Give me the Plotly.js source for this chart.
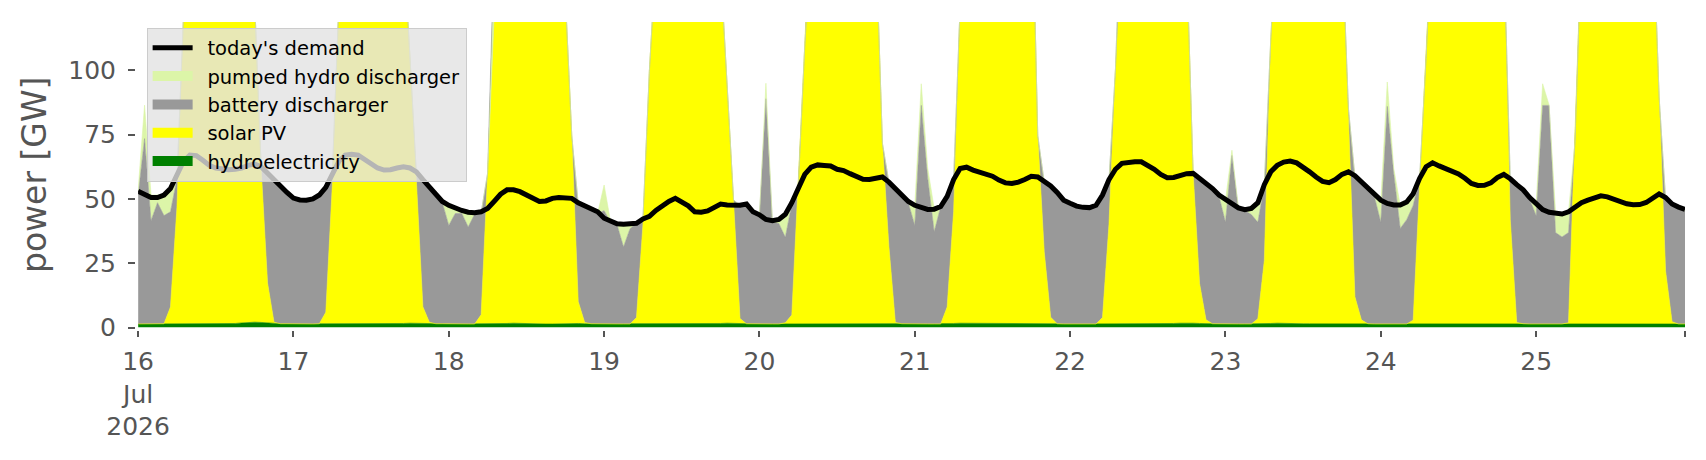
<!DOCTYPE html>
<html>
<head>
<meta charset="utf-8">
<script src="https://cdn.plot.ly/plotly-3.0.1.min.js"></script>
<style>
  html, body { margin: 0; padding: 0; background: #ffffff; }
  #chart { width: 1706px; height: 460px; }
</style>
</head>
<body>
<div id="chart"></div>
<script>
// ---- data: hourly values, 16 Jul 2026 00:00 .. 25 Jul 2026 23:00 (one row per day) ----
const startTime = '2026-07-16T00:00:00Z';
const hoursCount = 240;

const demand = [
  53, 51.5, 50.5, 50.5, 51.5, 54, 59, 64.5, 67, 66.8, 65, 63, 62, 61.5, 61.3, 61.5, 62, 63, 63.5, 62.5, 60, 57.5, 54.5, 52.5,
  50.3, 49.6, 49.5, 50, 51.5, 54.5, 59.5, 64.5, 67, 67.3, 67, 65.5, 63.5, 62, 61.2, 61.3, 62, 62.5, 62, 60.5, 57.5, 54.5, 51.5, 49,
  47.5, 46.3, 45.5, 44.8, 44.6, 45, 46.3, 49, 51.8, 53.5, 53.5, 52.8, 51.5, 50, 49, 49.2, 50.2, 50.5, 50.5, 50.2, 48.5, 47.5, 46.2, 45,
  42.5, 41.2, 40.3, 40.1, 40.1, 40.5, 42.2, 43.2, 45.5, 47.3, 49, 50.2, 49, 47.3, 45, 44.8, 45.3, 46.5, 48, 47.6, 47.4, 47.5, 48, 45,
  43.8, 42, 41.5, 42, 44, 48.5, 54, 59.5, 62.3, 63.2, 63, 62.8, 61.5, 61, 59.8, 58.6, 57.6, 57.5, 58.2, 58.5, 56.5, 54, 51.8, 49,
  47.5, 46.5, 45.9, 46, 47, 51, 57.5, 61.8, 62.3, 61.2, 60.5, 60, 58.8, 57.3, 56.2, 56, 56.5, 57.5, 58.8, 58.5, 57, 55, 52.5, 49.5,
  48.3, 47.2, 46.7, 46.6, 47.5, 51.5, 57.5, 61.5, 63.8, 64.3, 64.4, 64.4, 63, 61.5, 59.5, 58.2, 58.3, 59, 59.8, 59.9, 58, 56, 54, 51.5,
  49.8, 48, 46.5, 45.8, 46.3, 48.5, 55.5, 60.5, 63, 64.3, 64.7, 64, 62.5, 60.5, 58.5, 56.8, 56.3, 57.5, 59.5, 60.5, 59, 56.5, 54.5, 51.5,
  49.5, 48.2, 47.6, 47.6, 48.8, 52, 58, 62.5, 64, 62.8, 61.8, 60.8, 59.7, 58, 56, 55.2, 55.3, 56.2, 58.3, 59.5, 57.8, 55.5, 53.5, 50.5,
  47.8, 45.8, 44.8, 44.4, 44.1, 45, 47, 48.5, 49.5, 50.5, 51.2, 50.8, 49.8, 49, 48.1, 47.7, 47.8, 48.6, 50.5, 51.9, 50.5, 48, 46.8, 45.9
];

const hydroelectricity = [
  1.4,1.4,1.5,1.5,1.5,1.5,1.6,1.6,1.5,1.5,1.4,1.4,1.4,1.4,1.5,1.6,1.8,2.0,2.1,2.0,1.8,1.6,1.5,1.5,
  1.4,1.4,1.4,1.4,1.5,1.5,1.5,1.6,1.6,1.5,1.5,1.5,1.4,1.4,1.4,1.4,1.5,1.6,1.7,1.7,1.6,1.6,1.5,1.5,
  1.4,1.4,1.4,1.4,1.4,1.5,1.5,1.5,1.5,1.6,1.7,1.6,1.5,1.4,1.4,1.4,1.4,1.5,1.5,1.6,1.6,1.5,1.5,1.4,
  1.4,1.4,1.4,1.4,1.4,1.4,1.5,1.5,1.5,1.5,1.6,1.6,1.6,1.5,1.5,1.5,1.5,1.5,1.6,1.7,1.6,1.5,1.5,1.4,
  1.4,1.4,1.4,1.4,1.4,1.4,1.5,1.5,1.5,1.5,1.5,1.5,1.5,1.5,1.5,1.5,1.5,1.6,1.6,1.6,1.5,1.5,1.5,1.4,
  1.4,1.4,1.4,1.4,1.4,1.5,1.6,1.7,1.7,1.6,1.5,1.5,1.5,1.5,1.5,1.5,1.5,1.6,1.6,1.6,1.5,1.5,1.5,1.4,
  1.4,1.4,1.4,1.4,1.4,1.4,1.5,1.6,1.6,1.5,1.5,1.5,1.5,1.5,1.5,1.5,1.6,1.7,1.8,1.7,1.6,1.5,1.5,1.4,
  1.4,1.4,1.4,1.4,1.4,1.4,1.5,1.6,1.7,1.6,1.5,1.5,1.5,1.5,1.5,1.5,1.5,1.5,1.6,1.6,1.5,1.5,1.5,1.4,
  1.4,1.4,1.4,1.4,1.4,1.4,1.5,1.5,1.5,1.5,1.5,1.5,1.5,1.5,1.5,1.5,1.5,1.5,1.6,1.6,1.5,1.5,1.5,1.4,
  1.4,1.4,1.4,1.4,1.4,1.4,1.5,1.5,1.5,1.5,1.5,1.5,1.5,1.5,1.5,1.5,1.5,1.5,1.6,1.6,1.5,1.5,1.4,1.4
];

const solarPV = [
  0,0,0,0,0,6.5,45,118.5,165,180,190,195,195,190,182,170,155,140,125,60.5,15.5,0.5,0,0,
  0,0,0,0,0,4.5,53.5,123,170,185,195,200,200,195,188,178,165,148,103.5,55.5,6.5,0.5,0,0,
  0,0,0,0,0,3.5,58.5,145,180,195,205,210,210,205,195,185,170,150,128,73,8.5,0.5,0,0,
  0,0,0,0,0,2.5,38.5,98.5,158,185,200,205,205,200,195,185,175,160,138,93,48,2,0,0,
  0,0,0,0,0.5,3.5,53.5,108,168,190,205,210,215,210,205,195,185,170,148,70,30,0.5,0,0,
  0,0,0,0,0,6.5,43.5,123,175,190,200,205,210,205,200,195,190,185,182,73,28,2.5,0,0,
  0,0,0,0,0,2.5,38.5,98.5,168,190,200,210,210,205,200,190,180,165,142,58.5,15.5,1.5,0,0,
  0,0,0,0,0,2,24.5,110.5,158.5,185,195,205,210,210,205,195,185,175,150,83.5,10.5,1.5,0,0,
  0,0,0,0,0,1.5,53.5,103.5,158,185,200,205,210,210,205,200,190,180,170,147,40.5,0.5,0,0,
  0,0,0,0,0,0.5,70.5,148,180,195,205,210,210,205,200,190,180,170,160,88,20.5,0.8,0,0
];

const batteryDischarger = [
  50,72,40,47,42,37,11,0,0,0,0,0,0,0,0,0,0,0,0,0.5,42.5,55,52.5,50.5,
  48.3,47.6,47.5,48,49.5,48,4.5,0,0,0,0,0,0,0,0,0,0,0,0,2.5,49,52,49.5,47,
  38.3,42.9,43,37.7,42.6,39.5,0,0,0,0,0,0,0,0,0,0,0,0,0,0,38,45,44.5,43,
  44,39.5,38.5,29.9,37,36.5,2.2,0,0,0,0,0,0,0,0,0,0,0,0,0,0,44,46,43,
  42,87.5,39.5,39,33.2,43,0,0,0,0,0,0,0,0,0,0,0,0,0,0,25,51.5,50,47,
  38.3,84.9,56.5,35.8,45.5,42.5,12.5,0,0,0,0,0,0,0,0,0,0,0,0,0,27,50.5,50.5,47.5,
  46.5,45.3,44.8,44.7,45.6,47.2,17,0,0,0,0,0,0,0,0,0,0,0,0,0,40.5,53,52.2,49.6,
  39.5,65.5,44.5,44,42.5,37.5,29,0,0,0,0,0,0,0,0,0,0,0,0,0,46.5,53,52.5,49.5,
  39.5,84.5,58.5,37.1,40.5,44.5,3,0,0,0,0,0,0,0,0,0,0,0,0,0,15.5,53,51.5,48.5,
  42,84.9,84.9,35.5,33.8,35,0,0,0,0,0,0,0,0,0,0,0,0,0,0,28,45.5,45,44
];

const pumpedHydroDischarger = [
  2,13,10,3,8,8,0,0,0,0,0,0,0,0,0,0,0,0,0,0,0,0,0,0,
  0,0.5,0.5,0,0,0,0,0,0,0,0,0,0,0,0,0,0,0,0,0,0,0,0,0,
  7.2,1.5,0.5,5,0,0,0,0,0,0,0,0,0,0,0,0,0,0,0,0,0,0,0,0,
  10,0.2,0.3,8.7,1.5,0,0,0,0,0,0,0,0,0,0,0,0,0,0,0,0,0,0,0,
  0.3,6,0.5,1.5,9,0.5,0,0,0,0,0,0,0,0,0,0,0,0,0,0,0,0,0,0,
  7.7,8.4,4,9,0.5,0,0,0,0,0,0,0,0,0,0,0,0,0,0,0,0,0,0,0,
  0,0,0,0,0,0,0,0,0,0,0,0,0,0,0,0,0,0,0,0,0,0,0,0,
  8.5,2,0.5,0,3,7.5,1,0,0,0,0,0,0,0,0,0,0,0,0,0,0,0,0,0,
  8,9.5,2,8.9,6.5,4.5,0,0,0,0,0,0,0,0,0,0,0,0,0,0,0,0,0,0,
  4.3,8.4,0.2,8,8.7,8,0,0,0,0,0,0,0,0,0,0,0,0,0,0,0,0,0,0
];

const dayTickValues = ['2026-07-16','2026-07-17','2026-07-18','2026-07-19','2026-07-20',
                       '2026-07-21','2026-07-22','2026-07-23','2026-07-24','2026-07-25','2026-07-25 23:00'];
const dayTickLabels = ['16<br>Jul<br>2026','17','18','19','20','21','22','23','24','25',''];
const yTickValues = [0, 25, 50, 75, 100];

const seriesNames = {
  demand: "today's demand",
  pumped: 'pumped hydro discharger',
  battery: 'battery discharger',
  solar: 'solar PV',
  hydro: 'hydroelectricity'
};
const seriesColors = {
  demand: '#000000',
  pumped: '#dcf5a8',
  battery: '#999999',
  solar: '#ffff00',
  hydro: '#008000'
};
// gap between legend swatch and legend text (en space)
const legendGap = '\u2002';

// ---- hourly time stamps ----
function hourlyTimes(start, n) {
  const t0 = new Date(start).getTime();
  const out = [];
  for (let i = 0; i < n; i++) {
    out.push(new Date(t0 + i * 3600000).toISOString().slice(0, 19).replace('T', ' '));
  }
  return out;
}
const times = hourlyTimes(startTime, hoursCount);

function areaTrace(key, values) {
  return {
    type: 'scatter', mode: 'lines', x: times, y: values,
    stackgroup: 'supply', name: seriesNames[key],
    line: { color: seriesColors[key], width: 0.6 },
    fillcolor: seriesColors[key],
    showlegend: false, hoverinfo: 'skip'
  };
}
function legendSwatch(key, rank) {
  return {
    type: 'scatter', mode: 'lines', x: [null], y: [null],
    name: legendGap + seriesNames[key], legendrank: rank,
    line: { color: seriesColors[key], width: 13 },
    hoverinfo: 'skip'
  };
}

const traces = [
  areaTrace('hydro', hydroelectricity),
  areaTrace('solar', solarPV),
  areaTrace('battery', batteryDischarger),
  areaTrace('pumped', pumpedHydroDischarger),
  legendSwatch('pumped', 2),
  legendSwatch('battery', 3),
  legendSwatch('solar', 4),
  legendSwatch('hydro', 5),
  {
    type: 'scatter', mode: 'lines', x: times, y: demand,
    name: legendGap + seriesNames.demand, legendrank: 1,
    line: { color: seriesColors.demand, width: 5 }
  }
];

const axisGray = '#555555';
const layout = {
  width: 1706, height: 460,
  margin: { l: 135, r: 21, t: 22, b: 130, pad: 0 },
  paper_bgcolor: '#ffffff', plot_bgcolor: '#ffffff',
  font: { family: 'DejaVu Sans, sans-serif', color: axisGray },
  showlegend: true,
  legend: {
    x: 0.0075, y: 0.982, xanchor: 'left', yanchor: 'top',
    bgcolor: 'rgba(226,226,226,0.8)', bordercolor: '#cccccc', borderwidth: 1,
    font: { family: 'DejaVu Sans, sans-serif', size: 19.5, color: '#000000' },
    traceorder: 'normal', itemwidth: 40
  },
  xaxis: {
    type: 'date', range: [times[0], times[hoursCount - 1]],
    domain: [0.002, 1], anchor: 'free', position: 0,
    tickmode: 'array', tickvals: dayTickValues, ticktext: dayTickLabels,
    ticks: 'outside', ticklen: 6, tickwidth: 2, tickcolor: axisGray,
    tickfont: { size: 25, color: axisGray }, tickangle: 0, ticklabelstandoff: 3,
    showgrid: false, zeroline: false, showline: false
  },
  yaxis: {
    range: [0, 118.7], domain: [0.0078, 1], anchor: 'free', position: 0,
    tickmode: 'array', tickvals: yTickValues,
    ticks: 'outside', ticklen: 7, tickwidth: 2, tickcolor: axisGray,
    tickfont: { size: 25, color: axisGray }, ticklabelstandoff: 7,
    showgrid: false, zeroline: false, showline: false,
    title: { text: 'power [GW]', font: { size: 33, color: axisGray }, standoff: 10 }
  }
};

Plotly.newPlot('chart', traces, layout, { staticPlot: true, displayModeBar: false });
</script>
</body>
</html>
